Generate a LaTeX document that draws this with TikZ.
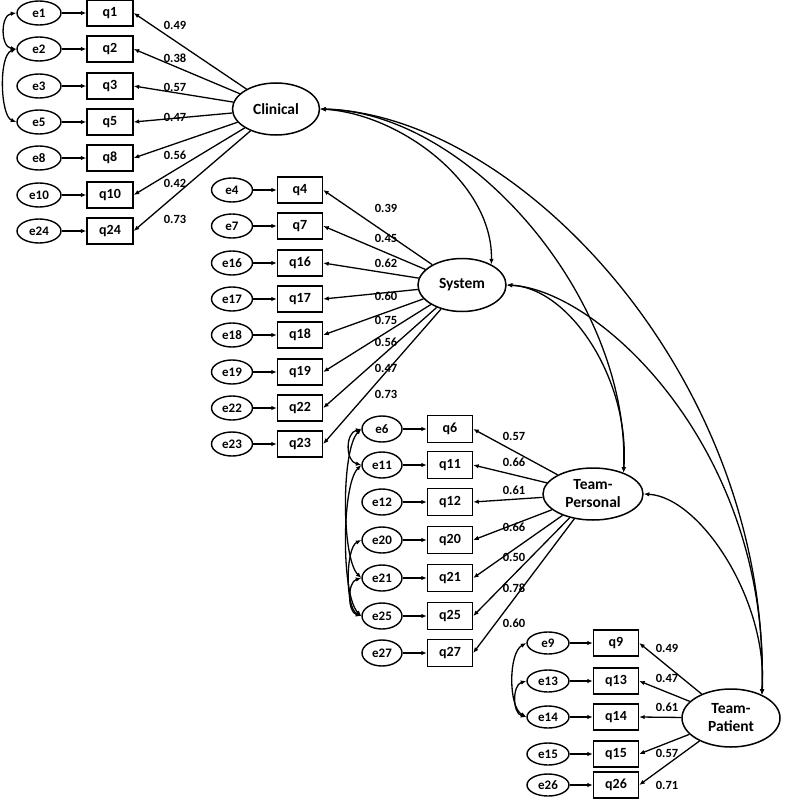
\documentclass[tikz,border=0pt]{standalone}
\usepackage{fontspec}
\setmainfont{Carlito}
\usetikzlibrary{arrows.meta,shapes.geometric}
\begin{document}
\begin{tikzpicture}[x=1pt,y=1pt,
  >={Latex[length=5.5pt,width=4.5pt]},
  err/.style={ellipse,draw,line width=1.4pt,inner sep=0pt,minimum width=42pt,minimum height=24pt,font=\fontsize{13}{13}\selectfont\bfseries},
  obs/.style={rectangle,draw,line width=1.4pt,inner sep=0pt,minimum width=46pt,minimum height=26pt,font=\fontsize{14}{14}\selectfont\bfseries},
  lat/.style={ellipse,draw,line width=1.5pt,inner sep=0pt,align=center,font=\fontsize{15.5}{20}\selectfont\bfseries},
  lbl/.style={inner sep=0pt,font=\fontsize{12.5}{12.5}\selectfont\bfseries},
  link/.style={->,line width=1.3pt},
  cov/.style={<->,line width=1.3pt}]
\useasboundingbox (0,0) rectangle (784,-800);

% latent variables
\node[lat,minimum width=87pt,minimum height=52pt] (clin) at (276,-109) {Clinical};
\node[lat,minimum width=88pt,minimum height=53pt] (sys) at (462,-285) {System};
\node[lat,minimum width=100pt,minimum height=52pt] (tpers) at (593,-494) {Team-\\[-2pt]Personal};
\node[lat,minimum width=98pt,minimum height=58pt] (tpat) at (731,-718) {Team-\\[-2pt]Patient};

% Clinical cluster
\foreach \n/\y/\v/\ly in {1/13/0.49/25,2/49/0.38/58,3/86/0.57/87,5/122/0.47/117,8/158/0.56/155,10/195/0.42/183,24/231/0.73/219} {
  \node[err,minimum width=44pt] (e\n) at (39,-\y) {e\n};
  \node[obs] (q\n) at (110,-\y) {q\n};
  \draw[link] (e\n) -- (q\n);
  \draw[link] (clin) -- (q\n.east);
  \node[lbl] (l\n) at (175,-\ly) {\v};
}

% System cluster
\foreach \n/\y/\v/\ly in {4/190/0.39/208,7/226/0.45/238,16/263/0.62/263,17/299/0.60/296,18/335/0.75/320,19/372/0.56/342,22/408/0.47/368,23/444/0.73/394} {
  \node[err,minimum width=41pt] (e\n) at (232,-\y) {e\n};
  \node[obs,minimum width=45pt] (q\n) at (300,-\y) {q\n};
  \draw[link] (e\n) -- (q\n);
  \draw[link] (sys) -- (q\n.east);
  \node[lbl] (l\n) at (386,-\ly) {\v};
}

% Team-Personal cluster
\foreach \n/\y/\v/\ly in {6/429/0.57/436,11/465/0.66/462,12/502/0.61/490,20/540/0.66/527,21/578/0.50/557,25/616/0.78/588,27/653/0.60/623} {
  \node[err,minimum width=40pt,minimum height=26pt] (e\n) at (382,-\y) {e\n};
  \node[obs,minimum width=45pt,minimum height=27pt] (q\n) at (450,-\y) {q\n};
  \draw[link] (e\n) -- (q\n);
  \draw[link] (tpers) -- (q\n.east);
  \node[lbl] (l\n) at (514,-\ly) {\v};
}

% Team-Patient cluster
\foreach \n/\y/\v/\ly in {9/643/0.49/648,13/681/0.47/678,14/717/0.61/707,15/754/0.57/753,26/785/0.71/785} {
  \node[err,minimum width=42pt,minimum height=22pt] (e\n) at (548,-\y) {e\n};
  \node[obs,minimum width=45pt] (q\n) at (616,-\y) {q\n};
  \draw[link] (e\n) -- (q\n);
  \draw[link] (tpat) -- (q\n.east);
  \node[lbl] (l\n) at (667,-\ly) {\v};
}

% error covariances
\draw[cov] (e1.west) .. controls +(-16,-2) and +(-16,2) .. (e2.west);
\draw[cov] (e2.west) .. controls +(-18,-6) and +(-16,6) .. (e5.west);
\draw[cov] (e6.west) .. controls +(-16,-4) and +(-16,4) .. (e11.west);
\draw[cov] (e6.west) .. controls +(-20,-20) and +(-20,20) .. (e21.west);
\draw[cov] (e11.west) .. controls +(-20,-20) and +(-20,20) .. (e25.west);
\draw[cov] (e20.west) .. controls +(-16,-8) and +(-16,8) .. (e25.west);
\draw[cov] (e21.west) .. controls +(-14,-4) and +(-14,4) .. (e25.west);
\draw[cov] (e9.west) .. controls +(-18,-10) and +(-18,10) .. (e14.west);
\draw[cov] (e13.west) .. controls +(-14,-4) and +(-14,4) .. (e14.west);

% factor covariances
\draw[cov] (clin.east) .. controls (400,-114) and (493,-183) .. (sys.35);
\draw[cov] (clin.east) .. controls (470,-112) and (630,-300) .. (tpers.35);
\draw[cov] (clin.east) .. controls (520,-115) and (770,-380) .. (tpat.37);
\draw[cov] (sys.east) .. controls (570,-288) and (630,-380) .. (tpers.35);
\draw[cov] (sys.east) .. controls (600,-290) and (770,-450) .. (tpat.37);
\draw[cov] (tpers.east) .. controls (700,-497) and (768,-600) .. (tpat.37);
\end{tikzpicture}
\end{document}
